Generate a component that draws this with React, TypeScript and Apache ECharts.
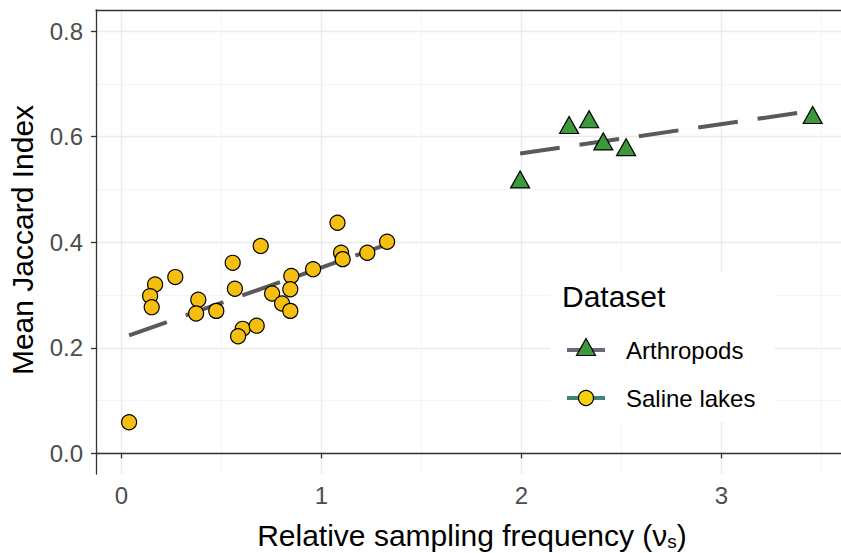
import React, { useEffect, useRef } from "react";
import * as echarts from "echarts";

const salineX = [0.038, 0.168, 0.143, 0.151, 0.269, 0.384, 0.373, 0.474, 0.556, 0.567, 0.696, 0.606, 0.583, 0.676, 0.753, 0.803, 0.844, 0.849, 0.844, 0.958, 1.08, 1.098, 1.106, 1.229, 1.328];
const salineY = [0.059, 0.32, 0.298, 0.277, 0.334, 0.291, 0.265, 0.27, 0.361, 0.312, 0.393, 0.236, 0.222, 0.242, 0.303, 0.284, 0.27, 0.336, 0.311, 0.349, 0.437, 0.38, 0.368, 0.38, 0.401];
const arthroX = [1.993, 2.238, 2.338, 2.409, 2.523, 3.456];
const arthroY = [0.519, 0.622, 0.633, 0.591, 0.58, 0.641];
const salineFitX = [0.038, 1.328];
const salineFitY = [0.2235, 0.396];
const arthroFitX = [1.993, 3.456];
const arthroFitY = [0.568, 0.649];
const xTicks = [0, 1, 2, 3];
const xMinor = [0.5, 1.5, 2.5, 3.5];
const yTicks = [0, 0.2, 0.4, 0.6, 0.8];
const yMinor = [0.1, 0.3, 0.5, 0.7];
const seriesNames = ["Arthropods", "Saline lakes"];

const FONT = "'Liberation Sans', Arial, Helvetica, sans-serif";

export default function App() {
  const ref = useRef<HTMLDivElement>(null);
  useEffect(() => {
    if (!ref.current) return;
    const chart = echarts.init(ref.current, undefined, { renderer: "svg" });
    const zip = (xs: number[], ys: number[]) => xs.map((x, i) => [x, ys[i]]);
    const major = { show: true, lineStyle: { color: "#ebebeb", width: 1.4 } };
    const minor = { show: true, lineStyle: { color: "#f5f5f5", width: 1 } };
    const dash = [40, 20];
    chart.setOption({
      animation: false,
      grid: { left: 96, top: 10, right: 0, bottom: 79 },
      xAxis: [
        {
          type: "value", min: -0.1275, max: 3.5975, position: "bottom",
          axisLine: { show: true, lineStyle: { color: "#333", width: 1.3 } },
          axisTick: { show: true, length: 5, customValues: xTicks, lineStyle: { color: "#333", width: 1.3 } },
          axisLabel: { customValues: xTicks, fontSize: 24, color: "#4d4d4d", margin: 9, fontFamily: FONT },
          splitLine: major,
        },
        {
          type: "value", min: -0.1275, max: 3.5975, position: "top",
          axisLine: { show: true, onZero: false, lineStyle: { color: "#333", width: 1.3 } },
          axisTick: { show: false, customValues: xMinor },
          axisLabel: { show: false, customValues: xMinor },
          splitLine: minor,
        },
      ],
      yAxis: [
        {
          type: "value", min: -0.0389, max: 0.8398, position: "left",
          axisLine: { show: true, onZero: false, lineStyle: { color: "#333", width: 1.3 } },
          axisTick: { show: true, length: 5, customValues: yTicks, lineStyle: { color: "#333", width: 1.3 } },
          axisLabel: { customValues: yTicks, fontSize: 24, color: "#4d4d4d", margin: 13, fontFamily: FONT, formatter: (v: number) => v.toFixed(1) },
          splitLine: major,
        },
        {
          type: "value", min: -0.0389, max: 0.8398, position: "right",
          axisLine: { show: false },
          axisTick: { show: false, customValues: yMinor },
          axisLabel: { show: false, customValues: yMinor },
          splitLine: minor,
        },
      ],
      series: [
        {
          type: "line", name: seriesNames[1] + " fit", data: zip(salineFitX, salineFitY), symbol: "none", z: 2,
          lineStyle: { color: "#595959", width: 4, type: dash, cap: "butt" },
        },
        {
          type: "line", name: seriesNames[0] + " fit", data: zip(arthroFitX, arthroFitY), symbol: "none", z: 2,
          lineStyle: { color: "#595959", width: 4, type: dash, cap: "butt" },
        },
        {
          type: "scatter", name: seriesNames[1], data: zip(salineX, salineY), symbol: "circle", symbolSize: 15, z: 3,
          itemStyle: { color: "#f6be0f", borderColor: "#000", borderWidth: 1.2, opacity: 1 },
        },
        {
          type: "scatter", name: seriesNames[0], data: zip(arthroX, arthroY), symbol: "triangle", symbolSize: [19, 17], z: 3,
          itemStyle: { color: "#3c9a3c", borderColor: "#000", borderWidth: 1.2, opacity: 1 },
        },
      ],
      graphic: [
        {
          type: "text", x: 22, y: 240, rotation: Math.PI / 2,
          style: { text: "Mean Jaccard Index", fontSize: 30, fontFamily: FONT, fill: "#000", align: "center", verticalAlign: "middle" },
        },
        {
          type: "text", x: 472, y: 535,
          style: {
            text: "{m|Relative sampling frequency (ν}{s|s}{m|)}",
            fontFamily: FONT, align: "center", verticalAlign: "middle",
            rich: {
              m: { fontSize: 30, lineHeight: 32, fontFamily: FONT, fill: "#000" },
              s: { fontSize: 19, lineHeight: 10, verticalAlign: "bottom", fontFamily: FONT, fill: "#000" },
            },
          },
        },
        { type: "rect", z: 10, shape: { x: 550, y: 272, width: 225, height: 150 }, style: { fill: "#fff" } },
        {
          type: "text", z: 11, x: 562, y: 296,
          style: { text: "Dataset", fontSize: 30, fontFamily: FONT, fill: "#000", align: "left", verticalAlign: "middle" },
        },
        { type: "line", z: 11, shape: { x1: 567, y1: 350, x2: 605, y2: 350 }, style: { stroke: "#6b6878", lineWidth: 4 } },
        { type: "polygon", z: 12, shape: { points: [[586, 338.5], [595.5, 355.5], [576.5, 355.5]] }, style: { fill: "#3c9a3c", stroke: "#000", lineWidth: 1.2 } },
        {
          type: "text", z: 11, x: 626, y: 350,
          style: { text: seriesNames[0], fontSize: 24, fontFamily: FONT, fill: "#000", align: "left", verticalAlign: "middle" },
        },
        { type: "line", z: 11, shape: { x1: 567, y1: 398, x2: 605, y2: 398 }, style: { stroke: "#3f8577", lineWidth: 4 } },
        { type: "circle", z: 12, shape: { cx: 586, cy: 398, r: 7.5 }, style: { fill: "#f6d10f", stroke: "#000", lineWidth: 1.2 } },
        {
          type: "text", z: 11, x: 626, y: 398,
          style: { text: seriesNames[1], fontSize: 24, fontFamily: FONT, fill: "#000", align: "left", verticalAlign: "middle" },
        },
      ],
    });
    return () => chart.dispose();
  }, []);
  return <div ref={ref} style={{ position: "fixed", left: 0, top: 0, width: 841, height: 553, background: "#fff" }} />;
}
